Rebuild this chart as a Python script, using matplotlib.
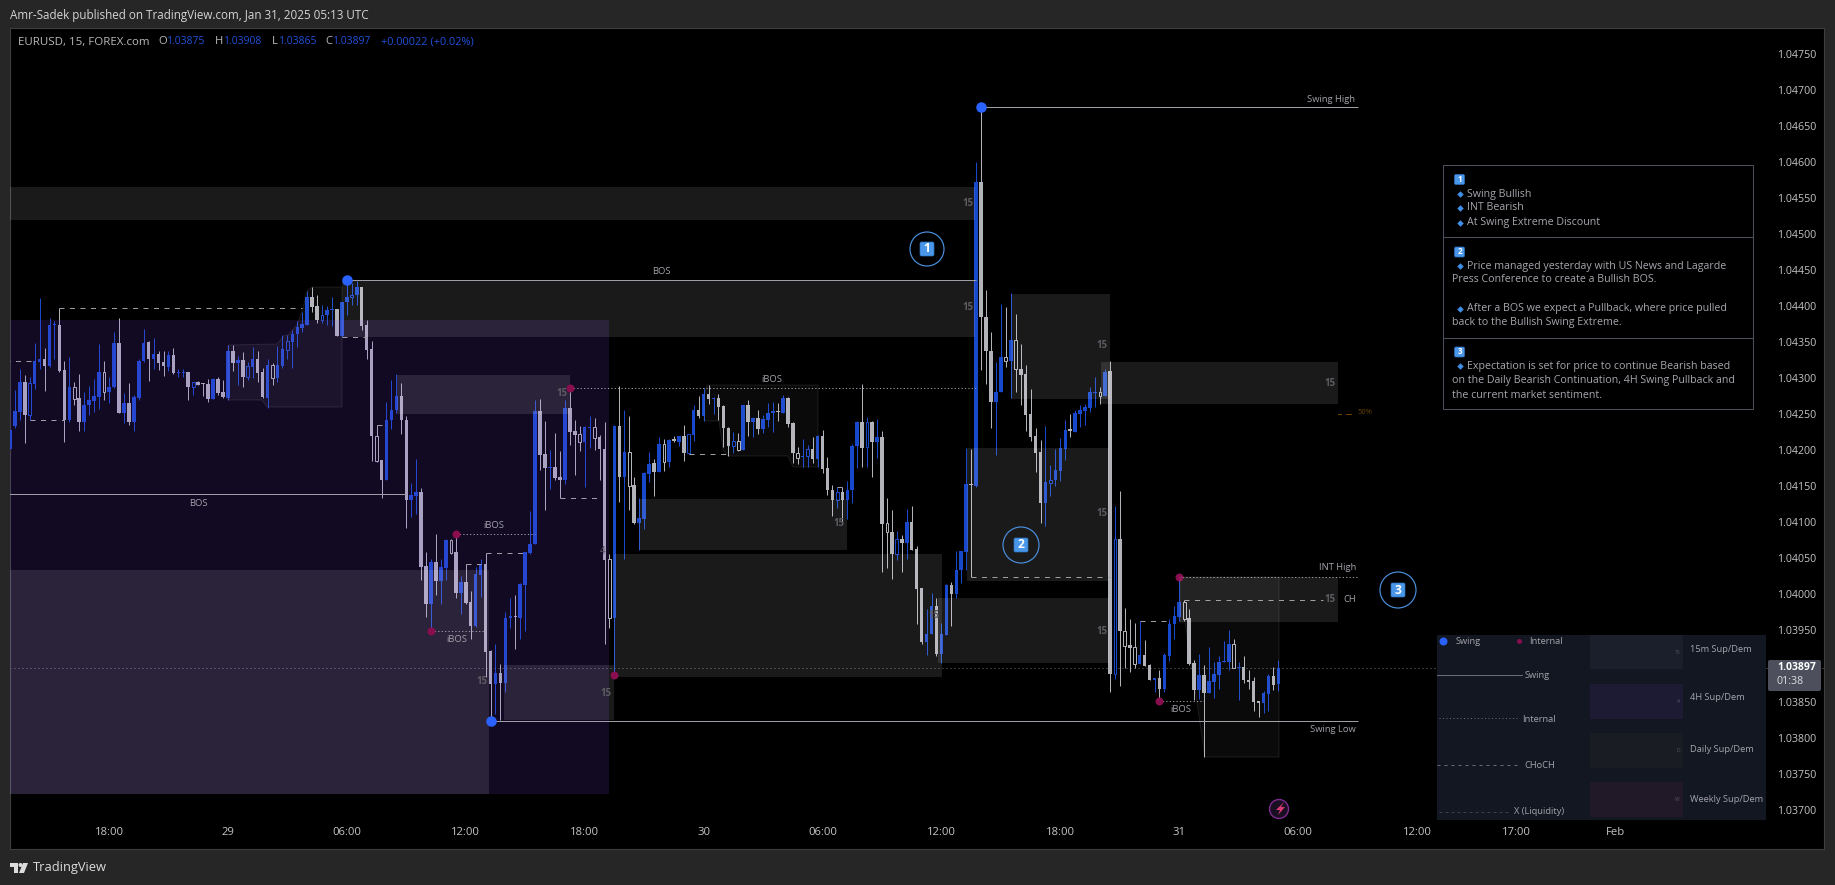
#!/usr/bin/python
# -*- coding: utf-8 -*-

import numpy as np
import matplotlib
matplotlib.use('Agg')
import matplotlib.pyplot as plt
from matplotlib.patches import Rectangle, Polygon, Circle, FancyBboxPatch

###############################################################################
# Data: one bar per 15 minutes, prices as points above 1.00000
###############################################################################
bar_open = [
    4202, 4233, 4253, 4294, 4249, 4292, 4322, 4327, 4316, 4373,
    4374, 4311, 4242, 4287, 4272, 4239, 4262, 4268, 4274, 4308,
    4280, 4287, 4349, 4252, 4265, 4239, 4272, 4323, 4350, 4326,
    4333, 4322, 4315, 4332, 4307, 4307, 4308, 4287, 4294, 4292,
    4291, 4271, 4299, 4280, 4272, 4337, 4321, 4325, 4302, 4315,
    4326, 4308, 4272, 4318, 4300, 4317, 4339, 4350, 4361, 4370,
    4374, 4412, 4400, 4381, 4387, 4394, 4396, 4359, 4405, 4412,
    4415, 4427, 4374, 4340, 4219, 4186, 4158, 4242, 4255, 4275,
    4242, 4130, 4136, 4142, 4039, 3986, 4044, 4018, 4036, 4075,
    4058, 4002, 4017, 3989, 3955, 4027, 4042, 3921, 3875, 3890,
    3877, 3966, 3969, 3967, 4013, 4057, 4070, 4254, 4194, 4175,
    4176, 4162, 4158, 4258, 4226, 4222, 4211, 4230, 4232, 4218,
    4201, 4048, 3967, 4233, 4163, 4197, 4151, 4098, 4104, 4167,
    4182, 4169, 4209, 4184, 4214, 4211, 4219, 4196, 4221, 4256,
    4247, 4278, 4271, 4272, 4261, 4231, 4206, 4212, 4200, 4262,
    4239, 4244, 4229, 4242, 4251, 4254, 4252, 4272, 4238, 4196,
    4190, 4191, 4202, 4188, 4219, 4175, 4145, 4130, 4142, 4130,
    4144, 4205, 4239, 4204, 4239, 4211, 4218, 4098, 4086, 4056,
    4076, 4071, 4100, 4062, 4008, 3934, 3944, 3984, 3917, 3943,
    4012, 4000, 4034, 4058, 4153, 4150, 4572, 4385, 4337, 4266,
    4281, 4329, 4323, 4353, 4313, 4306, 4250, 4219, 4197, 4127,
    4154, 4158, 4171, 4202, 4228, 4225, 4250, 4254, 4258, 4279,
    4280, 4275, 4310, 3889, 4076, 3948, 3929, 3926, 3903, 3915,
    3901, 3881, 3883, 3868, 3914, 3958, 3968, 3989, 3966, 3904,
    3867, 3887, 3863, 3878, 3887, 3905, 3906, 3930, 3897, 3898,
    3881, 3879, 3851, 3849, 3861, 3886, 3875,
]
bar_high = [
    4230, 4283, 4313, 4304, 4302, 4348, 4411, 4341, 4383, 4379,
    4397, 4324, 4329, 4295, 4306, 4281, 4289, 4299, 4347, 4324,
    4301, 4364, 4383, 4279, 4293, 4276, 4326, 4368, 4351, 4356,
    4337, 4337, 4337, 4341, 4313, 4312, 4308, 4295, 4296, 4293,
    4299, 4300, 4301, 4297, 4346, 4346, 4331, 4336, 4322, 4343,
    4337, 4314, 4326, 4321, 4344, 4360, 4360, 4367, 4379, 4392,
    4421, 4427, 4415, 4402, 4400, 4412, 4396, 4406, 4434, 4432,
    4435, 4427, 4381, 4352, 4235, 4186, 4267, 4297, 4305, 4293,
    4247, 4154, 4187, 4147, 4058, 4048, 4084, 4049, 4076, 4077,
    4083, 4025, 4042, 4004, 4038, 4049, 4057, 3922, 3930, 3903,
    3975, 3994, 3998, 4015, 4058, 4115, 4269, 4271, 4240, 4200,
    4223, 4198, 4269, 4285, 4242, 4233, 4233, 4247, 4244, 4221,
    4239, 4056, 4235, 4289, 4256, 4247, 4162, 4133, 4170, 4197,
    4187, 4218, 4215, 4215, 4219, 4219, 4235, 4222, 4262, 4275,
    4286, 4290, 4274, 4278, 4262, 4232, 4225, 4224, 4263, 4269,
    4246, 4256, 4249, 4265, 4267, 4265, 4276, 4273, 4239, 4204,
    4215, 4207, 4218, 4221, 4228, 4190, 4151, 4149, 4149, 4157,
    4209, 4240, 4292, 4246, 4240, 4243, 4227, 4134, 4117, 4087,
    4082, 4118, 4122, 4066, 4009, 3979, 4001, 3995, 3960, 4014,
    4017, 4060, 4060, 4203, 4202, 4600, 4675, 4422, 4364, 4322,
    4403, 4398, 4418, 4389, 4347, 4318, 4285, 4230, 4214, 4234,
    4179, 4201, 4217, 4242, 4250, 4256, 4262, 4264, 4287, 4301,
    4287, 4312, 4324, 4122, 4143, 3981, 3965, 3960, 3962, 3936,
    3903, 3884, 3894, 3918, 3965, 3983, 4024, 3992, 3979, 3908,
    3917, 3901, 3927, 3906, 3914, 3935, 3950, 3937, 3905, 3914,
    3895, 3885, 3851, 3865, 3889, 3898, 3908,
]
bar_low = [
    4201, 4231, 4242, 4210, 4241, 4285, 4312, 4282, 4315, 4326,
    4308, 4211, 4239, 4262, 4227, 4226, 4248, 4253, 4257, 4269,
    4265, 4286, 4252, 4237, 4235, 4227, 4269, 4322, 4296, 4313,
    4311, 4303, 4310, 4305, 4302, 4302, 4269, 4276, 4290, 4275,
    4267, 4271, 4277, 4272, 4270, 4310, 4290, 4287, 4297, 4300,
    4295, 4272, 4259, 4290, 4294, 4314, 4327, 4314, 4343, 4364,
    4374, 4391, 4377, 4377, 4373, 4372, 4358, 4357, 4388, 4402,
    4402, 4367, 4327, 4185, 4184, 4134, 4158, 4229, 4251, 4222,
    4091, 4107, 4111, 4019, 3968, 3948, 3999, 3986, 4019, 4056,
    3995, 3972, 3986, 3938, 3954, 3996, 3885, 3825, 3834, 3825,
    3864, 3953, 3923, 3938, 3948, 4056, 4070, 4172, 4116, 4146,
    4158, 4134, 4153, 4207, 4165, 4198, 4149, 4203, 4200, 4158,
    3930, 3953, 3888, 4128, 4048, 4117, 4097, 4061, 4090, 4155,
    4136, 4169, 4171, 4177, 4211, 4206, 4185, 4195, 4212, 4245,
    4240, 4264, 4250, 4242, 4204, 4191, 4196, 4199, 4200, 4219,
    4218, 4222, 4224, 4232, 4225, 4240, 4251, 4232, 4182, 4181,
    4177, 4177, 4182, 4177, 4168, 4137, 4108, 4119, 4098, 4104,
    4127, 4175, 4177, 4176, 4163, 4189, 4031, 4036, 4021, 4047,
    4031, 4049, 4061, 3958, 3931, 3915, 3944, 3914, 3904, 3943,
    3955, 3995, 4015, 4033, 4024, 4148, 4311, 4292, 4231, 4193,
    4280, 4315, 4272, 4281, 4262, 4227, 4213, 4170, 4099, 4095,
    4136, 4150, 4157, 4186, 4218, 4225, 4232, 4235, 4253, 4260,
    4264, 4275, 3864, 3882, 3872, 3897, 3892, 3897, 3903, 3900,
    3880, 3864, 3855, 3864, 3907, 3938, 3962, 3963, 3901, 3853,
    3854, 3773, 3862, 3856, 3868, 3905, 3895, 3897, 3853, 3876,
    3868, 3838, 3829, 3835, 3838, 3866, 3865,
]
bar_close = [
    4228, 4254, 4294, 4249, 4293, 4324, 4327, 4316, 4374, 4374,
    4310, 4242, 4287, 4271, 4239, 4262, 4269, 4275, 4308, 4280,
    4287, 4349, 4252, 4265, 4239, 4274, 4324, 4349, 4326, 4333,
    4321, 4316, 4332, 4307, 4308, 4308, 4287, 4294, 4290, 4291,
    4271, 4299, 4279, 4273, 4337, 4321, 4325, 4301, 4316, 4326,
    4307, 4273, 4318, 4300, 4318, 4340, 4351, 4361, 4371, 4375,
    4412, 4399, 4380, 4387, 4394, 4396, 4359, 4406, 4413, 4415,
    4427, 4372, 4339, 4219, 4185, 4158, 4242, 4256, 4275, 4242,
    4130, 4137, 4142, 4038, 3986, 4044, 4018, 4037, 4075, 4057,
    4002, 4017, 3987, 3955, 4028, 4042, 3919, 3875, 3890, 3877,
    3967, 3969, 3968, 4014, 4058, 4070, 4254, 4193, 4175, 4176,
    4161, 4158, 4258, 4225, 4221, 4211, 4232, 4232, 4217, 4201,
    4047, 3967, 4233, 4163, 4197, 4150, 4098, 4105, 4168, 4181,
    4169, 4209, 4184, 4214, 4213, 4219, 4196, 4222, 4256, 4247,
    4278, 4271, 4272, 4260, 4231, 4205, 4212, 4200, 4262, 4239,
    4244, 4229, 4243, 4251, 4254, 4253, 4272, 4236, 4196, 4189,
    4191, 4202, 4187, 4219, 4174, 4144, 4130, 4141, 4130, 4145,
    4206, 4239, 4203, 4239, 4211, 4218, 4097, 4086, 4056, 4076,
    4071, 4100, 4061, 4007, 3934, 3945, 3984, 3917, 3944, 4012,
    4000, 4034, 4060, 4153, 4151, 4572, 4385, 4337, 4266, 4281,
    4329, 4323, 4353, 4313, 4304, 4249, 4218, 4196, 4127, 4155,
    4159, 4172, 4203, 4228, 4227, 4251, 4255, 4260, 4280, 4280,
    4275, 4309, 3889, 4076, 3948, 3928, 3925, 3903, 3915, 3900,
    3881, 3883, 3868, 3915, 3959, 3969, 3989, 3965, 3903, 3867,
    3887, 3863, 3879, 3889, 3906, 3907, 3930, 3897, 3898, 3881,
    3878, 3850, 3849, 3862, 3886, 3873, 3897,
]
hollow_bars = [
    4, 13, 19, 37, 48, 53, 56, 63, 69, 74, 89, 115, 118, 121, 125, 132, 137,
    146, 147, 159, 161, 167, 173, 177, 179, 201, 203, 210, 220, 223, 225,
    227, 237, 247,
]

# supply and demand zones: bars and points
zone_left = [-1, 67.1, 78.2, -1, 99.8, 122, 127, 187.4, 193.2, 202.1, 220.3, 236.2]
zone_right = [194.8, 194.8, 113.1, 96.7, 122, 188.2, 169, 221.9, 221.9, 222, 268.1, 268.1]
zone_top = [4565, 4436, 4304, 4033, 3901, 4056, 4132, 3994, 4203, 4417, 4322, 4024]
zone_bottom = [4519, 4357, 4250, 3722, 3825, 3885, 4061, 3904, 4018, 4271, 4264, 3961]
weekly_zone = [-1, 120.9, 4380, 3722]

# structure levels: start bar, end bar, points
swing_start = [-1, 68, 196, 97]
swing_end = [80, 195, 272, 272]
swing_level = [4139, 4436, 4676, 3823]
internal_start = [90, 85, 113, 232, 236]
internal_end = [106, 96, 195, 241, 272]
internal_level = [4084, 3948, 4286, 3851, 4024]
choch_start = [-1, 10, 4, 67, 74, 92, 96, 111, 137, 167, 194, 228, 237]
choch_end = [5, 59, 11, 72, 75, 95, 104, 119, 145, 168, 222, 234, 265]
choch_level = [4323, 4397, 4241, 4357, 4235, 4042, 4057, 4134, 4195, 4149, 4023, 3962, 3991]

swing_dot_bar = [68, 196, 97]
swing_dot_level = [4436, 4676, 3823]
internal_dot_bar = [90, 85, 113, 122, 232, 236]
internal_dot_level = [4084, 3948, 4286, 3887, 3851, 4024]

last_close = 3897

price_ticks = [
    3700, 3750, 3800, 3850, 3900, 3950, 4000, 4050, 4100, 4150, 4200, 4250,
    4300, 4350, 4400, 4450, 4500, 4550, 4600, 4650, 4700, 4750,
]
time_ticks = [20, 44, 68, 92, 116, 140, 164, 188, 212, 236, 260, 284, 304, 324]
time_labels = [
    '18:00', '29', '06:00', '12:00', '18:00', '30', '06:00', '12:00', '18:00',
    '31', '06:00', '12:00', '17:00', 'Feb',
]

###############################################################################
# Style
###############################################################################
(W, H, DPI) = (1835, 885, 100)
PX = 72 / DPI
FONT = ['Open Sans', 'DejaVu Sans']
(BLUE, GREY, DOT_BLUE, DOT_RED) = ('#1848cc', '#b2b2b9', '#2962ff', '#880e4f')
(FRAME, LINE, TEXT) = ('#262626', '#9e9ea6', '#a4a4ac')
plt.rcParams['font.family'] = FONT


def price(points):
    return 1 + np.asarray(points, dtype=float) / 1e5


(PANE_L, PANE_R, PANE_T, PANE_B) = (10, 1824, 28, 849)
(BAR_X0, BAR_W) = (9.9, 4.955)
(Y0, Y_SCALE) = (162, 0.72)

fig = plt.figure(figsize=(W / DPI, H / DPI), dpi=DPI, facecolor=FRAME)
ax = fig.add_axes([
        PANE_L / W, 1 - PANE_B / H,
        (PANE_R - PANE_L) / W, (PANE_B - PANE_T) / H
    ], facecolor='black')
ax.set_xlim((PANE_L - BAR_X0) / BAR_W, (PANE_R - BAR_X0) / BAR_W)
ax.set_ylim(
        price(4600 - (PANE_B - Y0) / Y_SCALE),
        price(4600 + (Y0 - PANE_T) / Y_SCALE)
    )
for spine in ax.spines.values():
    spine.set_color('#3d3d3d')

###############################################################################
# Candles
###############################################################################
(o, h, l, c) = (
        price(bar_open), price(bar_high), price(bar_low), price(bar_close)
    )
x = np.arange(len(o))
up = c > o
colors = np.where(up, BLUE, GREY)
is_hollow = np.isin(x, hollow_bars)
ax.vlines(x, l, h, colors=colors, lw=1 * PX, zorder=2)
base = np.minimum(o, c)
height = np.maximum(np.abs(c - o), 0.000018)
ax.bar(
        x[~is_hollow], height[~is_hollow], bottom=base[~is_hollow], width=0.72,
        color=colors[~is_hollow], lw=0, zorder=3
    )
ax.bar(
        x[is_hollow], height[is_hollow], bottom=base[is_hollow], width=0.55,
        facecolor='black', edgecolor=colors[is_hollow], lw=1 * PX, zorder=3
    )

###############################################################################
# Zones, on top of the candles like the indicator boxes
###############################################################################
ax.add_patch(Rectangle(
        (weekly_zone[0], price(weekly_zone[3])),
        weekly_zone[1] - weekly_zone[0],
        price(weekly_zone[2]) - price(weekly_zone[3]),
        fc='#7c46f0', alpha=.15, lw=0, zorder=4
    ))
for (z_l, z_r, z_t, z_b) in zip(zone_left, zone_right, zone_top, zone_bottom):
    ax.add_patch(Rectangle(
            (z_l, price(z_b)), z_r - z_l, price(z_t) - price(z_b),
            fc='white', alpha=.105, lw=0, zorder=4
        ))

###############################################################################
# Levels and pivots
###############################################################################
ax.hlines(
        price(swing_level), swing_start, swing_end,
        colors=LINE, lw=1 * PX, zorder=5
    )
ax.hlines(
        price(internal_level), internal_start, internal_end,
        colors=LINE, lw=1 * PX, linestyles=(0, (1.2, 2.2)), zorder=5
    )
ax.hlines(
        price(choch_level), choch_start, choch_end,
        colors=LINE, lw=1 * PX, linestyles=(0, (5, 5.5)), zorder=5
    )
ax.axhline(
        price(last_close), color='#6e6e76', lw=1 * PX,
        linestyle=(0, (1, 3)), zorder=1
    )
ax.plot(
        swing_dot_bar, price(swing_dot_level), 'o', color=DOT_BLUE,
        ms=10.5 * PX, mew=0, zorder=6
    )
ax.plot(
        internal_dot_bar, price(internal_dot_level), 'o', color=DOT_RED,
        ms=8 * PX, mew=0, zorder=6
    )

###############################################################################
# Axes labels
###############################################################################
ax.set_yticks(price(price_ticks))
ax.set_yticklabels(['{:.5f}'.format(p) for p in price(price_ticks)])
ax.set_xticks(time_ticks)
ax.set_xticklabels(time_labels)
ax.yaxis.tick_right()
ax.tick_params(axis='y', length=0, pad=-8 * PX, labelsize=10.6 * PX, labelcolor='#c4c4c8')
ax.tick_params(axis='x', length=0, pad=-22 * PX, labelsize=11.2 * PX, labelcolor='#c4c4c8')
for label in ax.get_yticklabels():
    label.set_ha('right')

###############################################################################
# Overlay in picture pixels for the notes around the chart
###############################################################################
px = fig.add_axes([0, 0, 1, 1], facecolor='none')
px.set_xlim(0, W)
px.set_ylim(H, 0)
px.axis('off')


def note(xp, yp, txt, size=9.4, color=TEXT, ha='left', **kw):
    px.text(xp, yp, txt, fontsize=size * PX, color=color, ha=ha, va='center', **kw)


# faint ranges of the internal structure
ranges = [
    [(228, 345), (277, 344), (285, 335), (288, 335), (297, 325), (303, 308),
     (307, 291), (312, 287), (342, 287), (342, 407), (267, 407), (262, 400),
     (228, 400)],
    [(707, 385), (818, 385), (818, 467), (793, 467), (788, 456), (728, 456),
     (723, 450), (719, 421), (704, 421), (704, 395)],
    [(1180, 577), (1279, 577), (1279, 757), (1205, 757), (1185, 622), (1180, 622)],
]
for pts in ranges:
    px.add_patch(Polygon(pts, fc=(1, 1, 1, .045), ec=(1, 1, 1, .09), lw=1 * PX))

for (xp, yp, txt) in [
        (198, 503, 'BOS'), (661, 271, 'BOS'), (494, 526, 'iBOS'),
        (457, 639, 'iBOS'), (772, 380, 'iBOS'), (1181, 710, 'iBOS')]:
    note(xp, yp, txt, ha='center')
for (xp, yp, txt) in [
        (1355, 99, 'Swing High'), (1356, 730, 'Swing Low'),
        (1356, 568, 'INT High')]:
    note(xp, yp, txt, ha='right')
note(1356, 600, 'CH', ha='right')

for (xp, yp) in [
        (968, 203), (968, 308), (1102, 346), (1330, 383), (562, 393),
        (482, 682), (606, 693), (839, 524), (934, 616), (1102, 514),
        (1102, 631), (1330, 599)]:
    note(xp, yp, '15', size=9.6, color='#5c5c62', ha='center', fontweight='bold')
note(603, 552, '4', size=9.6, color='#55505f', ha='center')

px.plot([1338, 1341], [414, 414], color='#6b4200', lw=1 * PX)
px.plot([1346, 1351], [414, 414], color='#6b4200', lw=1 * PX)
note(1357, 413, '50%', size=7.5, color='#6b4200')


def keycap(xp, yp, num, side=12):
    px.add_patch(FancyBboxPatch(
            (xp - side / 2 + 1, yp - side / 2 + 1), side - 2, side - 2,
            boxstyle='round,pad=1,rounding_size=1.5', fc='#4a97ea', ec='#2d6fbd', lw=.5
        ))
    px.text(
            xp, yp, num, color='white', fontsize=(side - 2) * PX,
            fontweight='bold', ha='center', va='center'
        )


for (xp, yp, num, rad) in [(927, 249, '1', 17), (1021, 545, '2', 18), (1398, 590, '3', 18)]:
    px.add_patch(Circle((xp, yp), rad, fc='none', ec='#4a8fdc', lw=1.2 * PX))
    keycap(xp, yp, num, side=14)

# notes box
for (x0, y0, x1, y1) in [(1443, 165, 1753, 237), (1443, 237, 1753, 338), (1443, 338, 1753, 409)]:
    px.add_patch(Rectangle((x0, y0), x1 - x0, y1 - y0, fc='none', ec='#4c4f5c', lw=1 * PX))
keycap(1459.5, 179.5, '1', side=10)
keycap(1459.5, 252, '2', side=10)
keycap(1459.5, 352, '3', side=10)
box_lines = [
    (1467, 194, 'Swing Bullish', True), (1467, 208, 'INT Bearish', True),
    (1467, 223, 'At Swing Extreme Discount', True),
    (1467, 266, 'Price managed yesterday with US News and Lagarde', True),
    (1452, 280, 'Press Conference to create a Bullish BOS.', False),
    (1467, 309, 'After a BOS we expect a Pullback, where price pulled', True),
    (1452, 323, 'back to the Bullish Swing Extreme.', False),
    (1467, 366, 'Expectation is set for price to continue Bearish based', True),
    (1452, 380, 'on the Daily Bearish Continuation, 4H Swing Pullback and', False),
    (1452, 395, 'the current market sentiment.', False),
]
for (xp, yp, txt, bullet) in box_lines:
    note(xp, yp, txt, size=10.6, color='#a6a6ae')
    if bullet:
        px.plot(1459.5, yp, 'D', color='#3f8fe6', ms=4.6 * PX, mew=0)

# legend panel
px.add_patch(Rectangle((1437, 635), 329, 185, fc='#131722', lw=0))
px.plot(1443, 641, 'o', color=DOT_BLUE, ms=8 * PX, mew=0)
note(1456, 641, 'Swing', size=9.3)
px.plot(1519, 641, 'o', color=DOT_RED, ms=5 * PX, mew=0)
note(1529, 641, 'Internal', size=9.3)
px.plot([1437, 1522], [675, 675], color='#6a6d78', lw=1 * PX)
note(1525, 676, 'Swing', size=9.3)
px.plot([1439, 1519], [718, 718], color='#6a6d78', lw=1 * PX, ls=(0, (1, 2.5)))
note(1522, 719, 'Internal', size=9.3)
px.plot([1437, 1519], [765, 765], color='#6a6d78', lw=1 * PX, ls=(0, (3, 4)))
note(1524, 765, 'CHoCH', size=9.3)
px.plot([1439, 1510], [812, 812], color='#3c3f4a', lw=1 * PX, ls=(0, (3, 3)))
note(1514, 812, 'X (Liquidity)', size=9.3)
legend_boxes = [
    (635, 669, '#1a1f2b', '15', '15m Sup/Dem', 650),
    (684, 719, '#1c1b33', '4', '4H Sup/Dem', 698),
    (733, 768, '#191c22', 'D', 'Daily Sup/Dem', 749),
    (782, 817, '#211828', 'W', 'Weekly Sup/Dem', 799),
]
for (y0, y1, col, tag, txt, yt) in legend_boxes:
    px.add_patch(Rectangle((1590, y0), 93, y1 - y0, fc=col, lw=0))
    note(1680, (y0 + y1) / 2, tag, size=5, color='#55586a', ha='right')
    note(1690, yt, txt, size=9.3)

# last price tag
px.add_patch(FancyBboxPatch(
        (1769, 661), 51, 29, boxstyle='round,pad=1,rounding_size=2', fc='#4d505c', lw=0
    ))
note(1816, 668, '1.03897', size=10.4, color='white', ha='right', fontweight='bold')
note(1776, 682, '01:38', size=10.8, color='#dcdce0')

# lightning icon
px.add_patch(Circle((1279, 809), 9.5, fc='#1a0f22', ec='#7d2a8e', lw=1.4 * PX))
px.add_patch(Polygon(
        [(1284, 802), (1276, 810), (1280, 810), (1278, 815), (1285, 807), (1281, 807)],
        fc='#d83a72', lw=0
    ))

# status line and frame texts
note(10, 15, 'Amr-Sadek published on TradingView.com, Jan 31, 2025 05:13 UTC', size=11.6, color='#d4d4d4')
note(18, 42, 'EURUSD, 15, FOREX.com', size=11.5, color='#b8b8bc')
for (xp, txt) in [(158, 'O'), (215, 'H'), (272, 'L'), (325, 'C')]:
    note(xp, 42, txt, size=11.2, color='#b8b8bc')
for (xp, txt) in [(166, '1.03875'), (223, '1.03908'), (278, '1.03865'), (332, '1.03897')]:
    note(xp, 42, txt, size=10.4, color='#2050d8')
note(381, 42, '+0.00022 (+0.02%)', size=11, color='#2050d8')

# TradingView mark
px.add_patch(Polygon([(10, 863), (18, 863), (18, 873), (14, 873), (14, 867), (10, 867)], fc='#dcdcdc', lw=0))
px.add_patch(Circle((20.5, 865), 2, fc='#dcdcdc', lw=0))
px.add_patch(Polygon([(23, 863), (28, 863), (24, 873), (19, 873)], fc='#dcdcdc', lw=0))
note(33, 867, 'TradingView', size=12.9, color='#dcdcdc')

fig.savefig('out.png', dpi=DPI, facecolor=FRAME)
